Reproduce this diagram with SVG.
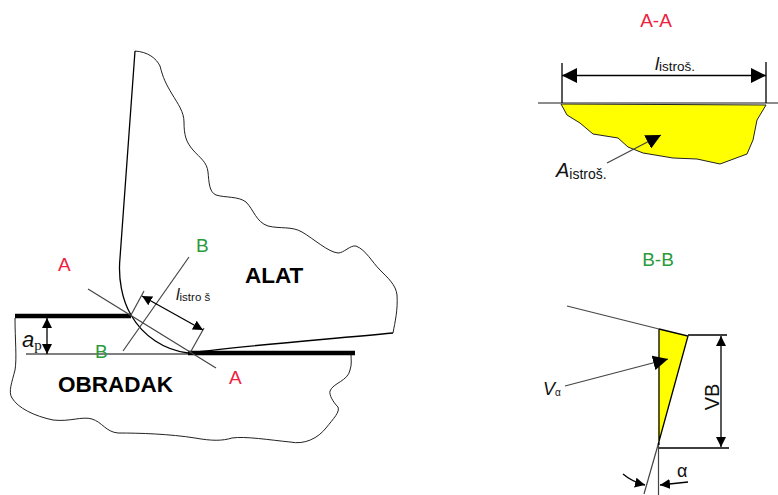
<svg xmlns="http://www.w3.org/2000/svg" width="778" height="495" viewBox="0 0 778 495">
<style>
text{font-family:"Liberation Sans",Arial,sans-serif;fill:#111}
.red{fill:#f0203c;font-size:19px}
.grn{fill:#2a9a3a;font-size:19px}
.big{font-size:22.500px;font-weight:bold;fill:#000}
.i{font-style:italic}
.o{fill:none;stroke:#222;stroke-width:1}
.l{fill:none;stroke:#444;stroke-width:1.2}
.k{fill:none;stroke:#000;stroke-width:1.3}
.t{fill:none;stroke:#000;stroke-width:4.5}
.y{fill:#ffff00}
</style>
<defs>
<marker id="ah" viewBox="0 0 10 10" refX="10" refY="5" markerWidth="10" markerHeight="10" markerUnits="userSpaceOnUse" orient="auto-start-reverse"><path d="M0 0L10 5L0 10Z" fill="#000"/></marker>
<marker id="ahb" viewBox="0 0 10 10" refX="10" refY="5" markerWidth="15" markerHeight="15" markerUnits="userSpaceOnUse" orient="auto-start-reverse"><path d="M0 0L10 5L0 10Z" fill="#000"/></marker>
</defs>
<g id="workpiece">
<path class="o" d="M15 318C15 340 17 358 15 370C12 382 8 392 12 398C18 408 34 416 53 420C70 422 82 416 92 419C102 422 106 432 118 433C140 433 170 434 195 438C212 441 222 441 232 438C245 436 270 440 290 442C305 445 318 438 326 428C334 418 340 412 338 407C333 402 329 395 330 391C333 383 348 381 350 370C352 364 351 360 351 354"/>
<path class="t" d="M15 316H131"/>
<path class="t" d="M188 353H355"/>
<path d="M26 354H188" fill="none" stroke="#555" stroke-width="1.5"/>
<text class="big" x="58" y="392">OBRADAK</text>
</g>
<g id="tool">
<path class="o" d="M135 51C148 52 156 58 160 66C163 78 166 84 172 94C178 104 184 112 184 122C184 135 186 142 193 150C200 158 207 162 208 172C209 182 209 192 216 195C226 198 238 196 246 202C254 210 256 222 268 226C280 229 292 226 302 232C314 239 328 252 338 253C344 253 350 245 356 246C366 250 372 262 380 270C388 278 396 285 397 295C398 310 395 322 393 333"/>
<path class="k" d="M393 333C320 340 250 345 188 353" stroke-width="1.6"/>
<path class="k" d="M135 51L120 258C118 278 122 300 131 315C143 336 164 350 188 353" stroke-width="1.8"/>
<text class="big" x="245" y="283">ALAT</text>
</g>
<g id="section-a-a">
<text class="red" x="656" y="27" text-anchor="middle">A-A</text>
<path class="y" stroke="#222" d="M561 104L567 115L580 123L593 134L618 138L628 147L643 153L673 158L697 159L720 164L747 154L753 140L757 120L766 105Z"/>
<path d="M538 103H778" stroke="#666" stroke-width="1.5" fill="none"/>
<text class="i" x="655" y="70" font-size="18">l<tspan font-size="13.500" font-style="normal" dy="1">istroš.</tspan></text>
<text class="i" x="556" y="177" font-size="20">A<tspan font-size="14" font-style="normal" dy="2">istroš.</tspan></text>
</g>
<g id="section-b-b">
<text class="grn" x="658" y="266" text-anchor="middle">B-B</text>
<path class="y" d="M659 329L688 336L658 445Z"/>
<path class="k" d="M659 329L688 336L658 445M659 329V445"/>
<text class="i" x="543" y="395" font-size="18">V<tspan font-size="10" font-style="normal" dy="1">α</tspan></text>
<text x="719" y="397" font-size="20" text-anchor="middle" transform="rotate(-90 719 397)">VB</text>
<text x="677" y="477" font-size="18">α</text>
</g>
<g id="labels">
<text class="red" x="58" y="271">A</text>
<text class="red" x="229" y="384">A</text>
<text class="grn" x="196" y="252">B</text>
<text class="grn" x="95" y="358">B</text>
<text class="i" x="22" y="347" font-size="22">a<tspan font-family="Liberation Serif,serif" font-size="15" font-style="normal" dy="3">p</tspan></text>
<text class="i" x="176" y="300" font-size="16">l<tspan font-size="11.500" font-style="normal" dy="1">istro š</tspan></text>
</g>
<g id="connectors">
<path class="l" d="M88 289L216 368"/>
<path class="l" d="M189 257L123 351"/>
<path class="l" d="M144 291L131 315"/>
<path class="l" d="M204 328L190 353"/>
<path class="k" d="M142 296L203 330" marker-start="url(#ah)" marker-end="url(#ah)"/>
<path class="k" d="M47 318V354" marker-start="url(#ah)" marker-end="url(#ah)"/>
<path class="k" d="M562 75.500H766" marker-start="url(#ahb)" marker-end="url(#ahb)"/>
<path class="k" d="M562 63V103M766 62V103"/>
<path class="l" d="M607 163L661 135" marker-end="url(#ahb)"/>
<path class="l" d="M567 306L659 329"/>
<path class="k" d="M688 335H727M658 448H729"/>
<path class="k" d="M721 336V447" marker-start="url(#ah)" marker-end="url(#ah)"/>
<path class="l" d="M565 386L668 359" marker-end="url(#ahb)"/>
<path class="l" d="M658.500 445V495"/>
<path class="l" d="M658 445L644 494"/>
<path class="k" d="M623 474C630 480 637 483 645 485" marker-end="url(#ah)"/>
<path class="k" d="M688 482L660 485" marker-end="url(#ah)"/>
</g>
</svg>
